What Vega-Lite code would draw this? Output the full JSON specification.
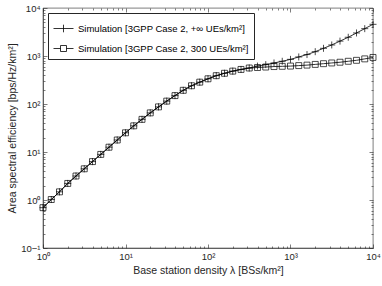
{
  "$schema": "https://vega.github.io/schema/vega-lite/v6.json",
  "width": 330,
  "height": 240,
  "autosize": "none",
  "padding": {"left": 43, "top": 8, "right": 9, "bottom": 38},
  "background": "white",
  "config": {
    "font": "Liberation Sans",
    "view": {"stroke": "#262626", "strokeWidth": 0.6},
    "axis": {
      "labelFont": "Liberation Sans",
      "labelFontSize": 9.5,
      "labelColor": "#262626",
      "titleFont": "Liberation Sans",
      "titleFontSize": 10.5,
      "titleFontWeight": "normal",
      "titleColor": "#262626",
      "domainColor": "#262626",
      "domainWidth": 0.6,
      "tickColor": "#262626",
      "tickWidth": 0.6,
      "grid": false,
      "labelOverlap": false,
      "labelFlush": false,
      "labelBound": false
    }
  },
  "data": {
    "values": [
      {"x": 1, "y": 0.692, "s": "inf"},
      {"x": 1.259, "y": 1.023, "s": "inf"},
      {"x": 1.585, "y": 1.479, "s": "inf"},
      {"x": 1.995, "y": 2.213, "s": "inf"},
      {"x": 2.512, "y": 3.162, "s": "inf"},
      {"x": 3.162, "y": 4.467, "s": "inf"},
      {"x": 3.981, "y": 6.31, "s": "inf"},
      {"x": 5.012, "y": 8.913, "s": "inf"},
      {"x": 6.31, "y": 12.59, "s": "inf"},
      {"x": 7.943, "y": 17.78, "s": "inf"},
      {"x": 10, "y": 25.12, "s": "inf"},
      {"x": 12.59, "y": 35.08, "s": "inf"},
      {"x": 15.85, "y": 47.86, "s": "inf"},
      {"x": 19.95, "y": 65.31, "s": "inf"},
      {"x": 25.12, "y": 87.1, "s": "inf"},
      {"x": 31.62, "y": 114.8, "s": "inf"},
      {"x": 39.81, "y": 149.6, "s": "inf"},
      {"x": 50.12, "y": 192.8, "s": "inf"},
      {"x": 63.1, "y": 239.9, "s": "inf"},
      {"x": 79.43, "y": 285.1, "s": "inf"},
      {"x": 100, "y": 335.0, "s": "inf"},
      {"x": 125.9, "y": 389.0, "s": "inf"},
      {"x": 158.5, "y": 436.5, "s": "inf"},
      {"x": 199.5, "y": 484.2, "s": "inf"},
      {"x": 251.2, "y": 524.8, "s": "inf"},
      {"x": 316.2, "y": 562.3, "s": "inf"},
      {"x": 398.1, "y": 616.6, "s": "inf"},
      {"x": 501.2, "y": 660.7, "s": "inf"},
      {"x": 631.0, "y": 716.1, "s": "inf"},
      {"x": 794.3, "y": 776.2, "s": "inf"},
      {"x": 1000, "y": 851.1, "s": "inf"},
      {"x": 1259, "y": 955.0, "s": "inf"},
      {"x": 1585, "y": 1072, "s": "inf"},
      {"x": 1995, "y": 1230, "s": "inf"},
      {"x": 2512, "y": 1445, "s": "inf"},
      {"x": 3162, "y": 1698, "s": "inf"},
      {"x": 3981, "y": 2042, "s": "inf"},
      {"x": 5012, "y": 2455, "s": "inf"},
      {"x": 6310, "y": 3020, "s": "inf"},
      {"x": 7943, "y": 3715, "s": "inf"},
      {"x": 10000, "y": 4571, "s": "inf"},
      {"x": 1, "y": 0.692, "s": "300"},
      {"x": 1.259, "y": 1.023, "s": "300"},
      {"x": 1.585, "y": 1.479, "s": "300"},
      {"x": 1.995, "y": 2.213, "s": "300"},
      {"x": 2.512, "y": 3.162, "s": "300"},
      {"x": 3.162, "y": 4.467, "s": "300"},
      {"x": 3.981, "y": 6.31, "s": "300"},
      {"x": 5.012, "y": 8.913, "s": "300"},
      {"x": 6.31, "y": 12.59, "s": "300"},
      {"x": 7.943, "y": 17.78, "s": "300"},
      {"x": 10, "y": 25.12, "s": "300"},
      {"x": 12.59, "y": 35.08, "s": "300"},
      {"x": 15.85, "y": 47.86, "s": "300"},
      {"x": 19.95, "y": 65.31, "s": "300"},
      {"x": 25.12, "y": 87.1, "s": "300"},
      {"x": 31.62, "y": 114.8, "s": "300"},
      {"x": 39.81, "y": 149.6, "s": "300"},
      {"x": 50.12, "y": 192.8, "s": "300"},
      {"x": 63.1, "y": 239.9, "s": "300"},
      {"x": 79.43, "y": 285.1, "s": "300"},
      {"x": 100, "y": 335.0, "s": "300"},
      {"x": 125.9, "y": 389.0, "s": "300"},
      {"x": 158.5, "y": 436.5, "s": "300"},
      {"x": 199.5, "y": 484.2, "s": "300"},
      {"x": 251.2, "y": 524.8, "s": "300"},
      {"x": 316.2, "y": 562.3, "s": "300"},
      {"x": 398.1, "y": 575.4, "s": "300"},
      {"x": 501.2, "y": 588.8, "s": "300"},
      {"x": 631.0, "y": 602.6, "s": "300"},
      {"x": 794.3, "y": 609.5, "s": "300"},
      {"x": 1000, "y": 616.6, "s": "300"},
      {"x": 1259, "y": 631.0, "s": "300"},
      {"x": 1585, "y": 645.7, "s": "300"},
      {"x": 1995, "y": 668.3, "s": "300"},
      {"x": 2512, "y": 691.8, "s": "300"},
      {"x": 3162, "y": 716.1, "s": "300"},
      {"x": 3981, "y": 741.3, "s": "300"},
      {"x": 5012, "y": 776.2, "s": "300"},
      {"x": 6310, "y": 812.8, "s": "300"},
      {"x": 7943, "y": 871.0, "s": "300"},
      {"x": 10000, "y": 933.3, "s": "300"}
    ]
  },
  "layer": [
    {
      "mark": {"type": "line", "color": "black", "strokeWidth": 0.8},
      "encoding": {
        "x": {
          "field": "x", "type": "quantitative",
          "scale": {"type": "log", "domain": [1, 10000], "nice": false},
          "axis": {
            "orient": "bottom",
            "title": "Base station density λ [BSs/km²]",
            "titlePadding": 3,
            "values": [1,2,3,4,5,6,7,8,9,10,20,30,40,50,60,70,80,90,100,200,300,400,500,600,700,800,900,1000,2000,3000,4000,5000,6000,7000,8000,9000,10000],
            "tickSize": {"condition": {"test": "abs(log(datum.value)/LN10 - round(log(datum.value)/LN10)) < 0.01", "value": -4}, "value": -2},
            "labelPadding": 7,
            "labelExpr": "abs(log(datum.value)/LN10 - round(log(datum.value)/LN10)) < 0.01 ? '10' + replace(replace(replace(replace(replace(replace(format(round(log(datum.value)/LN10), 'd'), '-', '⁻'), '0', '⁰'), '1', '¹'), '2', '²'), '3', '³'), '4', '⁴') : ''"
          }
        },
        "y": {
          "field": "y", "type": "quantitative",
          "scale": {"type": "log", "domain": [0.1, 10000], "nice": false},
          "axis": {
            "orient": "left",
            "title": "Area spectral efficiency [bps/Hz/km²]",
            "titlePadding": 3,
            "values": [0.1,0.2,0.3,0.4,0.5,0.6,0.7,0.8,0.9,1,2,3,4,5,6,7,8,9,10,20,30,40,50,60,70,80,90,100,200,300,400,500,600,700,800,900,1000,2000,3000,4000,5000,6000,7000,8000,9000,10000],
            "tickSize": {"condition": {"test": "abs(log(datum.value)/LN10 - round(log(datum.value)/LN10)) < 0.01", "value": -4}, "value": -2},
            "labelPadding": 7,
            "labelExpr": "abs(log(datum.value)/LN10 - round(log(datum.value)/LN10)) < 0.01 ? '10' + replace(replace(replace(replace(replace(replace(format(round(log(datum.value)/LN10), 'd'), '-', '⁻'), '0', '⁰'), '1', '¹'), '2', '²'), '3', '³'), '4', '⁴') : ''"
          }
        },
        "detail": {"field": "s"}
      }
    },
    {
      "mark": {"type": "point", "filled": false, "stroke": "black", "strokeWidth": 0.7, "size": 49, "opacity": 1},
      "encoding": {
        "x": {"field": "x", "type": "quantitative", "axis": null},
        "y": {"field": "y", "type": "quantitative", "axis": null},
        "shape": {
          "field": "s", "type": "nominal",
          "scale": {"domain": ["inf", "300"], "range": ["M-1,0H1M0,-1V1", "M-0.85,-0.85H0.85V0.85H-0.85Z"]},
          "legend": null
        }
      }
    },
    {
      "transform": [{"filter": "datum.x < 0"}],
      "mark": {"type": "point", "filled": false, "stroke": "black", "strokeWidth": 0.8, "opacity": 1},
      "encoding": {
        "x": {"field": "x", "type": "quantitative", "axis": null},
        "y": {"field": "y", "type": "quantitative", "axis": null},
        "shape": {
          "field": "s", "type": "nominal",
          "scale": {"domain": ["inf", "300"], "range": ["M-1,0H1M0,-0.38V0.38", "M-1,0H-0.3M0.3,0H1M-0.3,-0.3H0.3V0.3H-0.3Z"]},
          "legend": {
            "title": null,
            "orient": "top-left",
            "offset": 5,
            "padding": 5,
            "strokeColor": "#262626",
            "fillColor": "white",
            "labelFont": "Liberation Sans",
            "labelFontSize": 9.5,
            "labelColor": "#000000",
            "labelLimit": 400,
            "labelOffset": 4,
            "rowPadding": 4,
            "symbolSize": 400,
            "symbolStrokeColor": "black",
            "symbolFillColor": "transparent",
            "symbolStrokeWidth": 0.8,
            "symbolOpacity": 1,
            "labelExpr": "datum.value === 'inf' ? 'Simulation [3GPP Case 2, +∞ UEs/km²]' : 'Simulation [3GPP Case 2, 300 UEs/km²]'"
          }
        }
      }
    },
    {
      "mark": {"type": "point", "opacity": 0},
      "encoding": {
        "x": {
          "field": "x", "type": "quantitative",
          "axis": {
            "orient": "top", "title": null, "labels": false, "domain": false,
            "values": [1,2,3,4,5,6,7,8,9,10,20,30,40,50,60,70,80,90,100,200,300,400,500,600,700,800,900,1000,2000,3000,4000,5000,6000,7000,8000,9000,10000],
            "tickSize": {"condition": {"test": "abs(log(datum.value)/LN10 - round(log(datum.value)/LN10)) < 0.01", "value": -4}, "value": -2}
          }
        },
        "y": {
          "field": "y", "type": "quantitative",
          "axis": {
            "orient": "right", "title": null, "labels": false, "domain": false,
            "values": [0.1,0.2,0.3,0.4,0.5,0.6,0.7,0.8,0.9,1,2,3,4,5,6,7,8,9,10,20,30,40,50,60,70,80,90,100,200,300,400,500,600,700,800,900,1000,2000,3000,4000,5000,6000,7000,8000,9000,10000],
            "tickSize": {"condition": {"test": "abs(log(datum.value)/LN10 - round(log(datum.value)/LN10)) < 0.01", "value": -4}, "value": -2}
          }
        }
      }
    }
  ],
  "resolve": {"axis": {"x": "independent", "y": "independent"}, "scale": {"shape": "independent"}}
}
